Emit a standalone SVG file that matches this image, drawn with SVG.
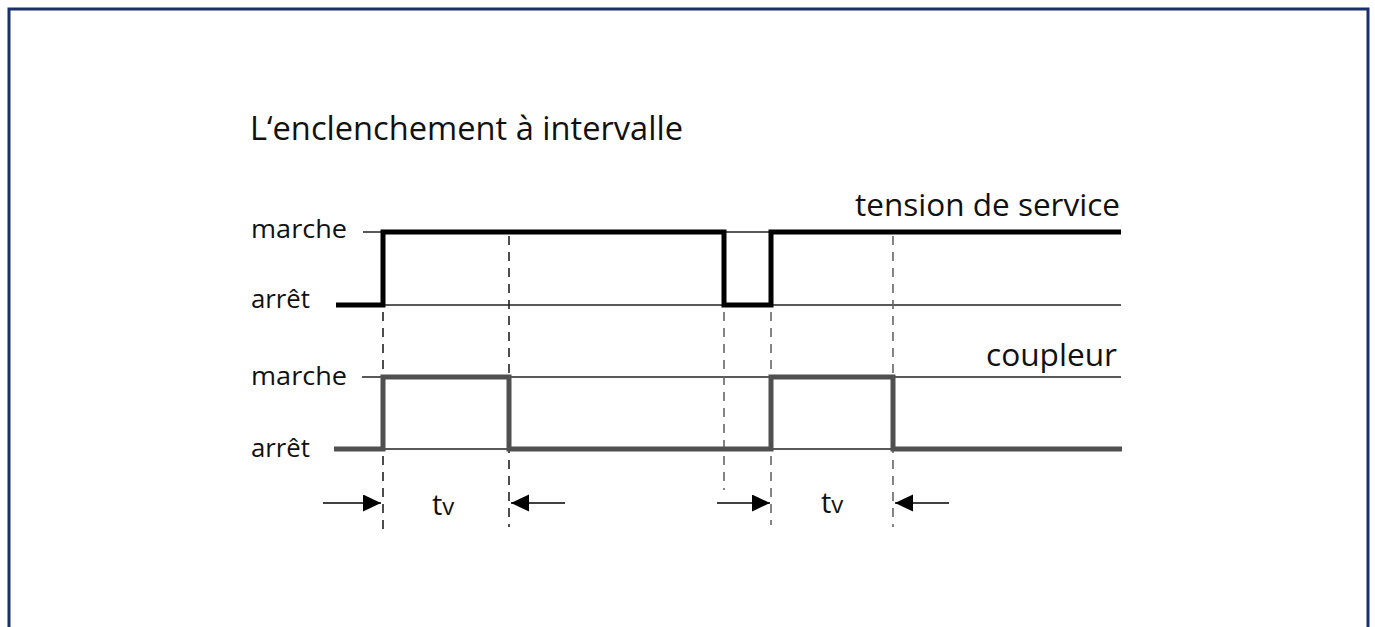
<svg xmlns="http://www.w3.org/2000/svg" width="1375" height="627" viewBox="0 0 1375 627">
<style>
  .lbl { font-family: "Open Sans", "Noto Sans", sans-serif; fill: #111; }
  .thin { stroke: #222; stroke-width: 1.3; fill: none; }
  .sig1 { stroke: #000; stroke-width: 5; fill: none; stroke-linejoin: miter; }
  .sig2 { stroke: #505050; stroke-width: 5; fill: none; stroke-linejoin: miter; }
  .dash { stroke: #222; stroke-width: 1.6; stroke-dasharray: 9 7; fill: none; }
  .dashg { stroke: #666; stroke-width: 1.6; stroke-dasharray: 9 7; fill: none; }
  .arr { stroke: #000; stroke-width: 1.6; fill: none; }
</style>
<defs>
  <marker id="ah" markerWidth="19" markerHeight="18" refX="18" refY="8.5" orient="auto" markerUnits="userSpaceOnUse">
    <path d="M0,0 L18,8.5 L0,17 Z" fill="#000"/>
  </marker>
</defs>
<rect width="1375" height="627" fill="#fff"/>
<rect id="frame" x="9" y="9" width="1359" height="640" fill="none" stroke="#1c2f6b" stroke-width="3"/>

<g id="title"><text class="lbl" x="250" y="140" font-size="33" textLength="433" lengthAdjust="spacingAndGlyphs">L‘enclenchement à intervalle</text></g>

<g id="labels">
  <text class="lbl" x="251" y="238" font-size="25" textLength="96" lengthAdjust="spacingAndGlyphs">marche</text>
  <text class="lbl" x="251" y="308" font-size="25" textLength="59" lengthAdjust="spacingAndGlyphs">arrêt</text>
  <text class="lbl" x="251" y="385" font-size="25" textLength="96" lengthAdjust="spacingAndGlyphs">marche</text>
  <text class="lbl" x="251" y="457" font-size="25" textLength="59" lengthAdjust="spacingAndGlyphs">arrêt</text>
  <text class="lbl" x="855" y="216" font-size="31" textLength="265" lengthAdjust="spacingAndGlyphs">tension de service</text>
  <text class="lbl" x="986" y="366" font-size="31" textLength="131" lengthAdjust="spacingAndGlyphs">coupleur</text>
</g>

<g id="reference-lines">
  <line class="thin" x1="363" y1="232" x2="1121" y2="232"/>
  <line class="thin" x1="383" y1="305" x2="1121" y2="305"/>
  <line class="thin" x1="362" y1="377" x2="1121" y2="377"/>
  <line class="thin" x1="383" y1="449" x2="1121" y2="449"/>
</g>

<g id="connectors">
  <line class="dash" x1="383" y1="312" x2="383" y2="533"/>
  <line class="dash" x1="509" y1="236" x2="509" y2="527"/>
  <line class="dashg" x1="724" y1="312" x2="724" y2="490"/>
  <line class="dashg" x1="771" y1="312" x2="771" y2="525"/>
  <line class="dashg" x1="893" y1="236" x2="893" y2="527"/>
  <line class="arr" x1="323" y1="503" x2="381" y2="503" marker-end="url(#ah)"/>
  <line class="arr" x1="565" y1="503" x2="511" y2="503" marker-end="url(#ah)"/>
  <line class="arr" x1="717" y1="503" x2="770" y2="503" marker-end="url(#ah)"/>
  <line class="arr" x1="949" y1="503" x2="895" y2="503" marker-end="url(#ah)"/>
</g>

<g id="signal-tension">
  <path class="sig1" d="M336,305 H383 V232 H724 V305 H771 V232 H1121"/>
</g>
<g id="signal-coupleur">
  <path class="sig2" d="M334,449 H383 V377 H509 V449 H771 V377 H893 V449 H1122"/>
</g>

<g id="tv-labels">
  <text class="lbl" x="432" y="515" font-size="29">t<tspan font-size="24">v</tspan></text>
  <text class="lbl" x="821" y="513" font-size="29">t<tspan font-size="24">v</tspan></text>
</g>
</svg>
